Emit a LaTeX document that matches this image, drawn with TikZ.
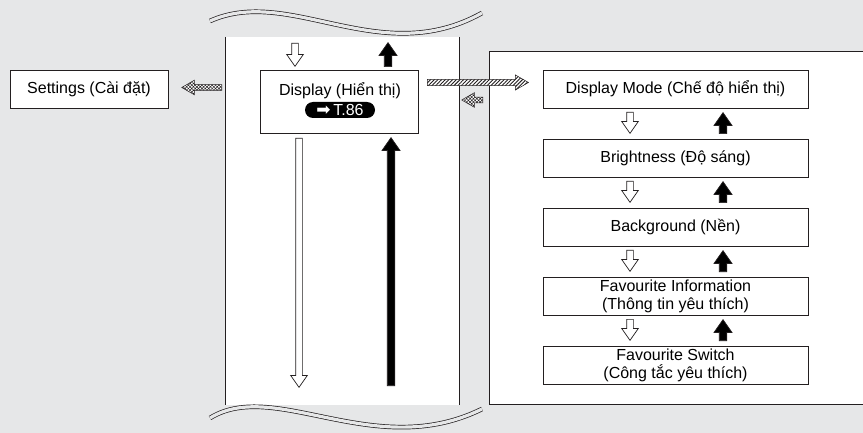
\documentclass[tikz,border=0pt]{standalone}
\usepackage{fontspec}
\setmainfont{Liberation Sans}
\newfontfamily\symfont{DejaVu Sans}
\usetikzlibrary{shapes.arrows, shapes.misc, patterns.meta}
\definecolor{PanelGray}{RGB}{230,231,232}
\definecolor{LineDark}{RGB}{35,31,32}

\begin{document}
\begin{tikzpicture}[x=1pt, y=-1pt,
    menubox/.style={draw=LineDark, fill=white, line width=0.8pt, minimum width=265pt,
      minimum height=38pt, inner sep=1pt, align=center,
      font=\fontsize{16}{18}\selectfont},
    blockarrow/.style={single arrow, draw=LineDark, line width=0.7pt, inner sep=3pt,
      single arrow head extend=5pt, single arrow tip angle=70,
      single arrow head indent=0pt},
    downarr/.style={blockarrow, fill=white, rotate=-90, minimum height=#1},
    uparr/.style={blockarrow, fill=black, rotate=90, minimum height=#1,
      inner sep=3.4pt, single arrow head extend=5.2pt},
    hatcharr/.style={blockarrow, inner sep=2.6pt, line width=0.5pt,
      single arrow head extend=4.5pt, single arrow tip angle=60,
      preaction={fill=white}, pattern color=LineDark},
    pill/.style={rounded rectangle, fill=black, text=white, inner sep=0pt,
      minimum width=70pt, minimum height=16pt, font=\fontsize{16}{16}\selectfont},
    wave/.style={draw=LineDark, line width=0.7pt, double=PanelGray, double distance=3.2pt}]
  \useasboundingbox (0,0) rectangle (863,433);
  \fill[PanelGray] (0,0) rectangle (863,433);

  % middle column, cut at top and bottom
  \fill[white] (225,37) rectangle (459,405);
  \draw[LineDark, line width=0.8pt] (225,37) -- (225,405) (459,37) -- (459,405);
  \draw[wave] (210,21) .. controls (290,-15) and (380,70) .. (482,13);
  \draw[wave] (210,418) .. controls (275,378) and (375,462) .. (482,409);

  % sub menu panel
  \filldraw[fill=white, draw=LineDark, line width=0.8pt]
    (870,51) -- (489,51) -- (489,404) -- (870,404);

  % left side
  \node[menubox, minimum width=158pt] (settings) at (89,89) {Settings (Cài đặt)};
  \node[hatcharr, pattern={Hatch[angle=45, distance=2.4pt, line width=0.5pt]},
    rotate=180, minimum height=40pt, anchor=tail] (toset) at (222,87.5) {};

  \node[menubox, minimum width=158pt, minimum height=63pt] (display) at (339,101.5) {};
  \node[font=\fontsize{16}{18}\selectfont] (disptext) at (340,91) {Display (Hiển thị)};
  \node[pill] (dispref) at (340,110) {{\symfont\fontsize{17}{17}\selectfont ➡}\,T.86};

  \node[downarr=23pt, anchor=tail] (dn0) at (295,43) {};
  \node[uparr=24pt, anchor=tail] (up0) at (388,67) {};
  \node[downarr=249pt, anchor=tail] (dnlong) at (299,138) {};
  \node[uparr=248pt, anchor=tail] (uplong) at (391,386) {};

  \node[hatcharr, pattern={Lines[angle=45, distance=2.6pt, line width=0.9pt]},
    minimum height=101pt, anchor=tail] (tosub) at (427,82.5) {};
  \node[hatcharr, pattern={Hatch[angle=45, distance=2.4pt, line width=0.5pt]},
    rotate=180, minimum height=21pt, anchor=tail] (fromsub) at (483,100) {};

  % right side menu
  \foreach \name/\txt [count=\i from 0] in {mode/Display Mode (Chế độ hiển thị),
      bright/Brightness (Độ sáng), backgr/Background (Nền),
      favinfo/{Favourite Information\\(Thông tin yêu thích)},
      favsw/{Favourite Switch\\(Công tắc yêu thích)}}{
    \node[menubox] (\name) at (675.5,{89+69*\i}) {\txt};
  }
  \foreach \i in {0,...,3}{
    \node[downarr=21pt, anchor=tail] (dn\i r) at (630,{112+69*\i}) {};
    \node[uparr=21pt, anchor=tail] (up\i r) at (723,{134+69*\i}) {};
  }
\end{tikzpicture}
\end{document}
